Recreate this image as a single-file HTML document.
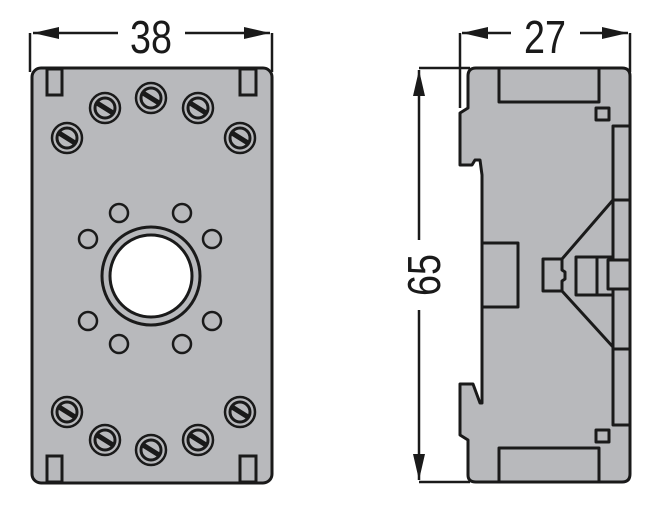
<!DOCTYPE html>
<html><head><style>body{margin:0;background:#fff}svg{display:block}</style></head><body>
<svg width="664" height="507" viewBox="0 0 664 507" xmlns="http://www.w3.org/2000/svg">
<g stroke="#1a1a1a" fill="none" stroke-width="2.5">
<line x1="30" y1="33" x2="30" y2="72"/><line x1="272" y1="33" x2="272" y2="72"/>
<line x1="118" y1="33" x2="33" y2="33"/><line x1="185" y1="33" x2="270" y2="33"/>
<path d="M33,33l26,-6v12z M270,33l-26,-6v12z" fill="#1a1a1a" stroke="none"/>
<line x1="460" y1="33" x2="460" y2="108"/><line x1="630" y1="33" x2="630" y2="72"/>
<line x1="462" y1="33" x2="511" y2="33"/><line x1="580" y1="33" x2="628" y2="33"/>
<path d="M462,33l26,-6v12z M628,33l-26,-6v12z" fill="#1a1a1a" stroke="none"/>
<line x1="419" y1="68" x2="470" y2="68"/><line x1="419" y1="482" x2="470" y2="482"/>
<line x1="419" y1="70" x2="419" y2="240"/><line x1="419" y1="310" x2="419" y2="480"/>
<path d="M419,70l-6,26h12z M419,480l-6,-26h12z" fill="#1a1a1a" stroke="none"/>
</g>
<g font-family="Liberation Sans, sans-serif" font-size="46" fill="#1a1a1a" text-anchor="middle">
<text transform="translate(151,53) scale(0.82,1)">38</text>
<text transform="translate(545,53) scale(0.82,1)">27</text>
<text transform="translate(440,275) rotate(-90) scale(0.82,1)">65</text>
</g>
<g stroke="#1a1a1a" stroke-width="3" fill="#b8b9bc">
<rect x="32" y="68" width="240" height="415" rx="9"/>
<rect x="47" y="69" width="15" height="26"/><rect x="240" y="69" width="16" height="26"/>
<rect x="47" y="456" width="15" height="26"/><rect x="240" y="456" width="16" height="26"/>
<circle cx="151" cy="276" r="49"/>
<circle cx="151" cy="276" r="41" fill="#fff"/>
<g stroke-width="2.5">
<circle cx="119" cy="213" r="9"/><circle cx="182" cy="213" r="9"/>
<circle cx="88" cy="239" r="9"/><circle cx="212" cy="239" r="9"/>
<circle cx="88" cy="321" r="9"/><circle cx="212" cy="321" r="9"/>
<circle cx="119" cy="344" r="9"/><circle cx="182" cy="344" r="9"/>
</g>
</g>
<defs><g id="s"><circle r="15" stroke-width="2.5"/><circle r="10" stroke-width="3"/><line x1="-8" y1="-5" x2="8" y2="5" stroke-width="5"/></g></defs>
<g stroke="#1a1a1a" fill="#b8b9bc">
<use href="#s" x="67" y="138"/><use href="#s" x="105" y="108"/><use href="#s" x="151" y="98"/><use href="#s" x="198" y="108"/><use href="#s" x="240" y="138"/>
<use href="#s" x="67" y="412"/><use href="#s" x="105" y="440"/><use href="#s" x="151" y="450"/><use href="#s" x="198" y="440"/><use href="#s" x="240" y="412"/>
</g>
<g stroke="#1a1a1a" stroke-width="3" fill="#b8b9bc" stroke-linejoin="round">
<path d="M476,68H622Q630,68 630,76V474Q630,482 622,482H476Q468,482 468,475V440L460,435V384H473L480,403H482V175L480,160H475L472,165H460V113L468,108V76Q468,68 476,68Z"/>
<path d="M499,68V102H599V68" fill="none"/>
<path d="M499,482V448H599V482" fill="none"/>
<rect x="596" y="108" width="13" height="12"/><rect x="596" y="430" width="13" height="12"/>
<path d="M630,126H613V425H630" fill="none"/>
<line x1="613" y1="200" x2="630" y2="200"/><line x1="613" y1="349" x2="630" y2="349"/>
<rect x="482" y="243" width="36" height="64"/>
<line x1="613" y1="200" x2="562" y2="259"/><line x1="562" y1="291" x2="613" y2="347"/>
<path d="M562,259H543V291H562V281L565,279V272L562,270Z"/>
<rect x="576" y="257" width="37" height="38"/><line x1="597" y1="257" x2="597" y2="295"/>
<rect x="608" y="260" width="22" height="29"/>
</g>
</svg>
</body></html>
